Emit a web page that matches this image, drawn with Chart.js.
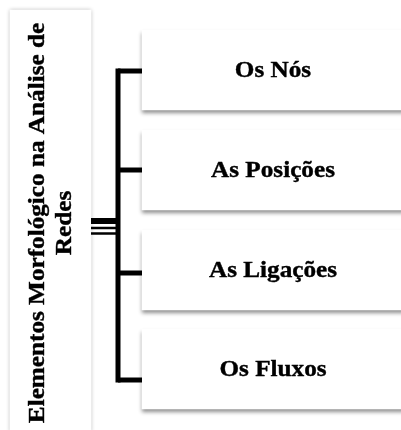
<!DOCTYPE html>
<html>
<head>
<meta charset="utf-8">
<script src="https://cdn.jsdelivr.net/npm/chart.js@4.4.1/dist/chart.umd.min.js"></script>
<style>
  html, body { margin: 0; padding: 0; background: #fff; }
  #wrap { width: 401px; height: 430px; }
</style>
</head>
<body>
<div id="wrap"><canvas id="diagram" width="401" height="430"></canvas></div>
<script>
(function () {
    'use strict';

    // Conteúdo do esquema
    const nodeLabels = ['Os Nós', 'As Posições', 'As Ligações', 'Os Fluxos'];
    const titleLines = ['Elementos Morfológico na Análise de', 'Redes'];

    // Layout (em pixels do quadro 401x430)
    const ROW_Y = [70, 170, 270, 369];
    const STUB_Y = [71, 170, 273, 380];
    const BOX_X = [142, 404];
    const BOX_H = 80;
    const TITLE_X = [10, 91];
    const TITLE_Y = [10, 432];
    const TRUNK_X = 118;
    const LINK_Y = [221, 228, 233.5];
    const LINK_W = [6, 2.5, 2.5];

    const FONT = 'bold 24px "Liberation Serif", "Times New Roman", serif';
    const STRETCH = 1.05;

    const lineDs = (pts, w, cap) => ({
        type: 'line',
        data: pts,
        borderColor: '#000',
        borderWidth: w,
        borderCapStyle: cap || 'butt',
        pointRadius: 0,
        fill: false,
        tension: 0,
        order: 0,
    });

    const datasets = [
        {
            type: 'bar',
            indexAxis: 'y',
            yAxisID: 'y2',
            data: [{ y: (TITLE_Y[0] + TITLE_Y[1]) / 2, x: TITLE_X }],
            barThickness: TITLE_Y[1] - TITLE_Y[0],
            backgroundColor: '#fff',
            borderWidth: 0,
            order: 2,
            shadow: { color: 'rgba(0,0,0,0.3)', blur: 4, dx: 0, dy: 0 },
        },
        {
            type: 'bar',
            indexAxis: 'y',
            yAxisID: 'y',
            data: nodeLabels.map((_, i) => ({ y: ROW_Y[i], x: BOX_X })),
            barThickness: BOX_H,
            backgroundColor: '#fff',
            borderWidth: 0,
            order: 1,
            shadow: { color: 'rgba(0,0,0,0.45)', blur: 4, dx: 0, dy: 3 },
        },
        lineDs([{ x: TRUNK_X, y: STUB_Y[0] }, { x: TRUNK_X, y: STUB_Y[STUB_Y.length - 1] }], 5, 'square'),
    ];
    STUB_Y.forEach(y => datasets.push(lineDs([{ x: TRUNK_X, y: y }, { x: BOX_X[0], y: y }], 5)));
    LINK_Y.forEach((y, i) => datasets.push(lineDs([{ x: TITLE_X[1], y: y }, { x: TRUNK_X, y: y }], LINK_W[i])));

    // Sombra das caixas
    const shadowPlugin = {
        id: 'boxShadow',
        beforeDatasetDraw(chart, args) {
            const s = chart.data.datasets[args.index].shadow;
            if (!s) return;
            const ctx = chart.ctx;
            ctx.save();
            ctx.shadowColor = s.color;
            ctx.shadowBlur = s.blur;
            ctx.shadowOffsetX = s.dx;
            ctx.shadowOffsetY = s.dy;
        },
        afterDatasetDraw(chart, args) {
            if (chart.data.datasets[args.index].shadow) chart.ctx.restore();
        }
    };

    function stretchedText(ctx, text, x, y) {
        ctx.save();
        ctx.translate(x, y);
        ctx.scale(STRETCH, 1);
        ctx.fillText(text, 0, 0);
        ctx.strokeText(text, 0, 0);
        ctx.restore();
    }

    // Textos das caixas
    const labelPlugin = {
        id: 'boxLabels',
        afterDatasetsDraw(chart) {
            const ctx = chart.ctx;
            ctx.save();
            ctx.fillStyle = '#000';
            ctx.strokeStyle = '#000';
            ctx.lineWidth = 0.4;
            ctx.font = FONT;
            ctx.textAlign = 'center';
            ctx.textBaseline = 'middle';

            chart.getDatasetMeta(1).data.forEach((el, i) => {
                stretchedText(ctx, nodeLabels[i], (el.x + el.base) / 2, el.y + 1);
            });

            const t = chart.getDatasetMeta(0).data[0];
            const lh = 27;
            ctx.translate((t.x + t.base) / 2 + 1, t.y + 2);
            ctx.rotate(-Math.PI / 2);
            titleLines.forEach((line, i) => {
                stretchedText(ctx, line, 0, (i - (titleLines.length - 1) / 2) * lh);
            });
            ctx.restore();
        }
    };

    const hidden = (min, max, rev) => ({
        type: 'linear', min: min, max: max, reverse: !!rev, display: false,
        offset: false, grid: { offset: false }, beginAtZero: false,
    });

    new Chart(document.getElementById('diagram'), {
        type: 'bar',
        data: { datasets: datasets },
        options: {
            responsive: false,
            animation: false,
            events: [],
            layout: { padding: 0 },
            plugins: { legend: { display: false }, tooltip: { enabled: false } },
            scales: {
                x: hidden(0, 401),
                y: hidden(0, 430, true),
                y2: hidden(0, 430, true),
            }
        },
        plugins: [shadowPlugin, labelPlugin]
    });
})();
</script>
</body>
</html>
